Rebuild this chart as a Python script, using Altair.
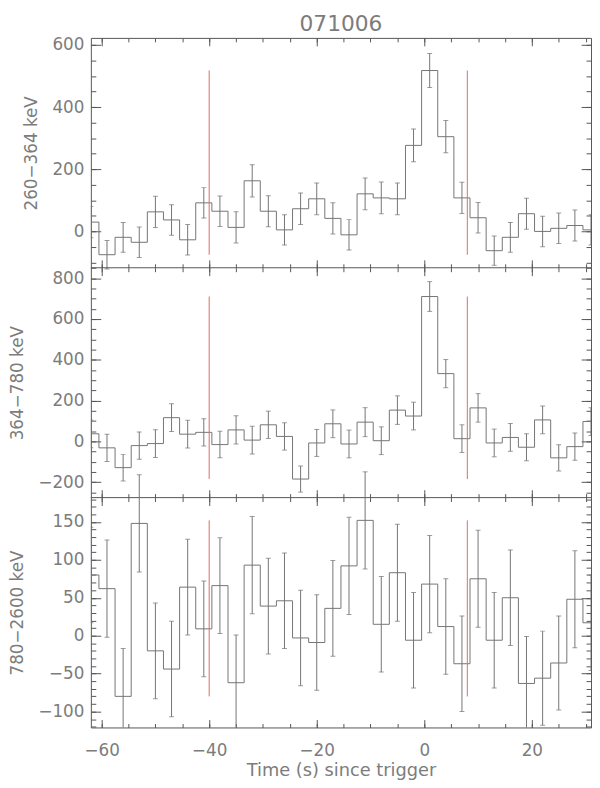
import altair as alt
import pandas as pd

# ---------------- data ----------------
time_s = [-62, -59, -56, -53, -50, -47, -44, -41, -38, -35, -32, -29, -26, -23, -20, -17,
          -14, -11, -8, -5, -2, 1, 4, 7, 10, 13, 16, 19, 22, 25, 28, 31]

band1_rate = [30, -75, -19, -35, 63, 37, -27, 92, 65, 13, 163, 65, 5, 73, 105, 42,
              -11, 121, 108, 105, 277, 518, 305, 108, 44, -62, -19, 57, 0, 10, 19, 5]
band1_err = [50, 46, 48, 49, 50, 49, 49, 49, 49, 50, 52, 50, 49, 51, 51, 50,
             49, 51, 51, 51, 53, 55, 52, 50, 49, 47, 48, 50, 49, 49, 50, 49]

band2_rate = [37, -32, -129, -21, -11, 116, 35, 44, -16, 56, 6, 81, 24, -185, -8, 86,
              -13, 94, 3, 153, 124, 710, 332, 13, 164, -8, 19, -29, 105, -81, -26, 97]
band2_err = [68, 67, 65, 67, 68, 68, 68, 67, 65, 69, 68, 67, 67, 64, 66, 68,
             68, 71, 68, 70, 68, 73, 69, 68, 70, 68, 68, 66, 68, 64, 67, 68]

band3_rate = [80, 62, -80, 148, -20, -44, 64, 9, 66, -62, 93, 39, 46, -3, -9, 36,
              92, 152, 15, 83, -6, 68, 12, -37, 75, -6, 50, -63, -56, -36, 48, 17]
band3_err = [63, 64, 63, 64, 63, 63, 63, 63, 63, 63, 64, 63, 63, 63, 63, 63,
             64, 64, 63, 64, 63, 64, 63, 63, 64, 63, 63, 62, 62, 62, 64, 63]

band_titles = ["260\u2212364 keV", "364\u2212780 keV", "780\u22122600 keV"]
chart_title = "071006"
x_title = "Time (s) since trigger"
trigger_window = [-40, 8]

x_domain = [-62, 31]
x_major = [-60, -40, -20, 0, 20]
x_minor = [-60, -55, -50, -45, -40, -35, -30, -25, -20, -15, -10, -5, 0, 5, 10, 15, 20, 25, 30]

y1_domain = [-117, 623]
y1_major = [0, 200, 400, 600]
y1_minor = [-100, -50, 0, 50, 100, 150, 200, 250, 300, 350, 400, 450, 500, 550, 600]

y2_domain = [-276, 851]
y2_major = [-200, 0, 200, 400, 600, 800]
y2_minor = [-250, -200, -150, -100, -50, 0, 50, 100, 150, 200, 250, 300, 350, 400, 450,
            500, 550, 600, 650, 700, 750, 800, 850]

y3_domain = [-121, 182]
y3_major = [-100, -50, 0, 50, 100, 150]
y3_minor = [-120, -110, -100, -90, -80, -70, -60, -50, -40, -30, -20, -10, 0, 10, 20, 30,
            40, 50, 60, 70, 80, 90, 100, 110, 120, 130, 140, 150, 160, 170, 180]

# ---------------- style / layout ----------------
FONT = "DejaVu Sans"
TXT = "#7c7c7c"
AX = "#555555"
LINE = "#747474"
RED = "#e06868"
W = 507
PH = 233            # height of one panel
TOTAL_H = 3 * PH

xs = alt.Scale(domain=x_domain, nice=False, zero=False)


def x_tick_axis(orient, values, size, edge):
    # inward ticks at the panel edge located `edge` px from the top of the chart
    off = -(edge + size) if orient == "top" else (edge - size) - TOTAL_H
    return alt.Axis(orient=orient, values=values, tickSize=size, offset=off,
                    domain=False, labels=False, grid=False, title=None,
                    tickColor=AX, tickWidth=1)


def y_tick_axis(orient, values, size):
    return alt.Axis(orient=orient, values=values, tickSize=size, offset=-size,
                    domain=False, labels=False, grid=False, title=None,
                    tickColor=AX, tickWidth=1)


def panel(idx, rate, err, ytitle, ydomain, ymaj, ymin):
    top = idx * PH
    bot = top + PH
    ys = alt.Scale(domain=ydomain, range=[bot, top], nice=False, zero=False)
    lo = [r - e for r, e in zip(rate, err)]
    hi = [r + e for r, e in zip(rate, err)]
    df = pd.DataFrame({"t": time_s, "rate": rate, "lo": lo, "hi": hi})
    caps = pd.DataFrame({"t": time_s + time_s, "cap": lo + hi})
    red = pd.DataFrame({"t": trigger_window,
                        "lo": [min(rate)] * len(trigger_window),
                        "hi": [max(rate)] * len(trigger_window)})

    if idx == 2:
        xlab = alt.Axis(orient="bottom", values=x_major, tickSize=8, offset=-8,
                        domain=False, grid=False, tickColor=AX, labels=True,
                        labelPadding=15, title=x_title, titlePadding=4,
                        titleFontSize=18, labelFlush=False, labelOverlap=False)
    else:
        xlab = x_tick_axis("bottom", x_major, 8, bot)

    ylab = alt.Axis(orient="left", values=ymaj, tickSize=10, offset=-10,
                    domain=False, grid=False, tickColor=AX, labelPadding=7,
                    title=ytitle, titlePadding=12, labelFlush=False,
                    labelOverlap=False)

    line = alt.Chart(df).mark_line(interpolate="step", color=LINE, strokeWidth=1,
                                   clip=True).encode(
        x=alt.X("t:Q", scale=xs, axis=xlab),
        y=alt.Y("rate:Q", scale=ys, axis=ylab),
    )
    bars = alt.Chart(df).mark_rule(color=LINE, strokeWidth=1, clip=True).encode(
        x=alt.X("t:Q", scale=xs, axis=x_tick_axis("bottom", x_minor, 4, bot)),
        y=alt.Y("lo:Q", scale=ys, axis=y_tick_axis("left", ymin, 5)),
        y2="hi:Q",
    )
    capm = alt.Chart(caps).mark_tick(orient="horizontal", size=5, thickness=1,
                                     color=LINE, clip=True).encode(
        x=alt.X("t:Q", scale=xs, axis=x_tick_axis("top", x_major, 8, top)),
        y=alt.Y("cap:Q", scale=ys, axis=y_tick_axis("right", ymaj, 10)),
    )
    reds = alt.Chart(red).mark_rule(color=RED, strokeWidth=1, clip=True).encode(
        x=alt.X("t:Q", scale=xs, axis=x_tick_axis("top", x_minor, 4, top)),
        y=alt.Y("lo:Q", scale=ys, axis=y_tick_axis("right", ymin, 5)),
        y2="hi:Q",
    )
    layers = [line, bars, capm, reds]
    if idx < 2:
        border = pd.DataFrame({"x0": [x_domain[0]], "x1": [x_domain[1]], "y": [ydomain[0]]})
        layers.append(
            alt.Chart(border).mark_rule(color=AX, strokeWidth=1).encode(
                x=alt.X("x0:Q", scale=xs, axis=None),
                x2="x1:Q",
                y=alt.Y("y:Q", scale=ys, axis=None),
            )
        )
    return layers


all_layers = []
all_layers += panel(0, band1_rate, band1_err, band_titles[0], y1_domain, y1_major, y1_minor)
all_layers += panel(1, band2_rate, band2_err, band_titles[1], y2_domain, y2_major, y2_minor)
all_layers += panel(2, band3_rate, band3_err, band_titles[2], y3_domain, y3_major, y3_minor)

chart = (
    alt.layer(*all_layers)
    .resolve_scale(y="independent")
    .resolve_axis(x="independent", y="independent")
    .properties(
        width=W, height=TOTAL_H,
        title=alt.TitleParams(text=chart_title, fontSize=22, font=FONT,
                              fontWeight="normal", color=TXT,
                              anchor="middle", frame="group", offset=0),
        padding={"left": 0, "top": 0, "right": 0, "bottom": 0},
    )
    .configure_view(stroke=AX, strokeWidth=1)
    .configure_axis(labelFont=FONT, labelFontSize=17, labelColor=TXT,
                    titleFont=FONT, titleFontSize=17, titleFontWeight="normal",
                    titleColor=TXT)
)

chart.save("out.html", embed_options={"renderer": "svg", "actions": False})
